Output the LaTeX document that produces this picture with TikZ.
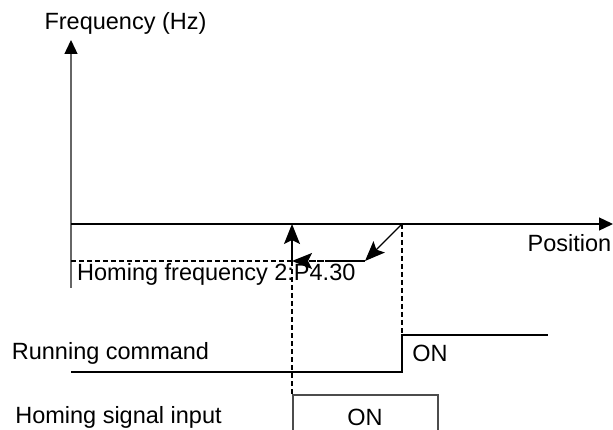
\documentclass[tikz,border=0pt]{standalone}
\usepackage{fontspec}
\setmainfont{Liberation Sans}
\usetikzlibrary{arrows.meta,calc,positioning}
\tikzset{
  >={Stealth[length=20pt,width=16pt,inset=4pt]},
  axis/.style={draw=black!60, line width=1.3pt, -{Triangle[length=14pt,width=13pt,color=black]}},
  line/.style={draw, line width=1.4pt},
  guide/.style={draw, line width=1.4pt, dashed, dash pattern=on 5pt off 3pt},
  label/.style={inner sep=0pt, font=\fontsize{23.5}{28}\selectfont}
}
\begin{document}
\begin{tikzpicture}[x=1pt,y=-1pt]
    \useasboundingbox (0,0) rectangle (613,430);

      % Reference points.
      \coordinate (ybot) at (71,288);
      \coordinate (ytop) at (71,40);
      \coordinate (xleft) at (71,224);
      \coordinate (xright) at (613,224);
      \coordinate (home) at (292,224);
      \coordinate (stop) at (402,224);
      \coordinate (corner) at (365,261);
      \coordinate (mid) at (330,261);
      \coordinate (low) at (292,261);
      \coordinate (lowleft) at (71,261);

      % Draw the axes.
      \draw[axis] (ybot) -- (ytop);
      \draw[axis,draw=black] (xleft) -- (xright);
      \node[label] (freqlabel) at (125.5,23) {Frequency (Hz)};
      \node[label] (poslabel) at (569.5,243) {Position};

      % Draw homing frequency level.
      \draw[guide] (lowleft) -- (mid);
      \node[label,anchor=west] (homfreq) at (77,274) {Homing frequency 2:P4.30};

      % Draw the deceleration path.
      \draw[line,->] (stop) -- (corner);
      \draw[line] (corner) -- (mid);
      \draw[guide,->] (mid) -- (low);
      \draw[line,->] (low) -- (home);

      % Draw guides down to the signals.
      \draw[guide] (low) -- (292,395);
      \draw[guide] (stop) -- (402,335);

      % Running command signal.
      \draw[line] (71,372) -- (402,372) -- (402,335) -- (548,335);
      \node[label] (runlabel) at (110.5,353) {Running command};
      \node[label] (runon) at (430,353) {ON};

      % Homing signal input.
      \draw[line,draw=black!70] (293,430) -- (293,395) -- (438,395) -- (438,430);
      \node[label] (homlabel) at (118.5,417) {Homing signal input};
      \node[label] (homon) at (365,417) {ON};
\end{tikzpicture}
\end{document}
